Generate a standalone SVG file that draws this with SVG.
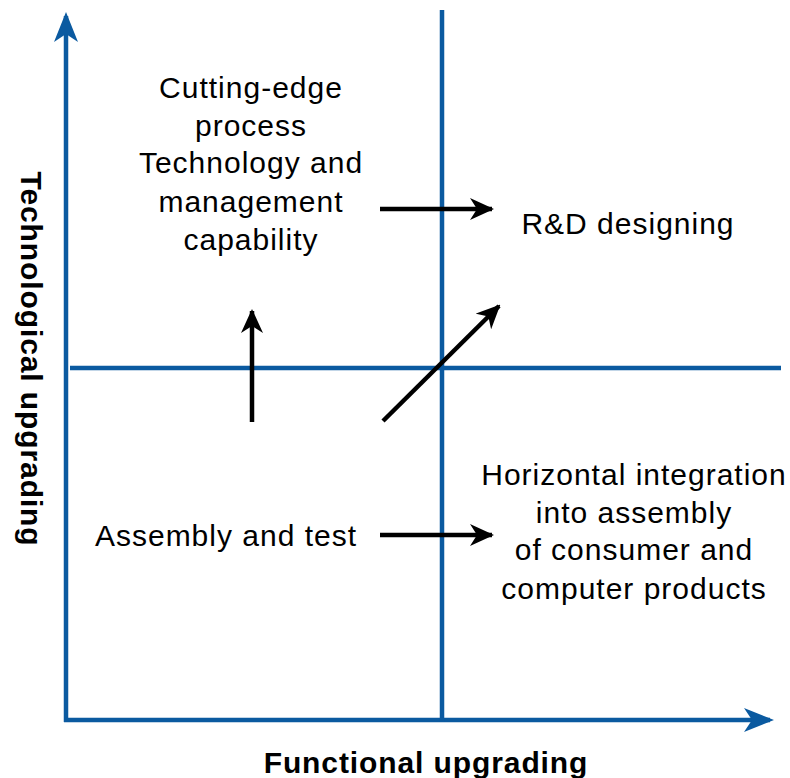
<svg xmlns="http://www.w3.org/2000/svg" width="790" height="778" viewBox="0 0 790 778">
  <style>
    .axis { stroke: #0b5aa0; stroke-width: 4.5; fill: none; }
    .flow { stroke: #000; stroke-width: 4.5; fill: none; }
    .lbl { font-family: "Liberation Sans", Arial, sans-serif; font-size: 30px; letter-spacing: 1px; fill: #000; text-anchor: middle; }
    .title { font-family: "Liberation Sans", Arial, sans-serif; font-size: 30px; letter-spacing: 0.9px; font-weight: bold; fill: #000; text-anchor: middle; }
  </style>
  <defs>
    <marker id="blueHead" markerUnits="userSpaceOnUse" markerWidth="30" markerHeight="24" refX="26" refY="12" orient="auto" viewBox="0 0 30 24">
      <path d="M0,0 L30,12 L0,24 L8,12 Z" fill="#0b5aa0"/>
    </marker>
    <marker id="blackHead" markerUnits="userSpaceOnUse" markerWidth="24" markerHeight="22" refX="22" refY="11" orient="auto" viewBox="0 0 24 22">
      <path d="M0,0 L24,11 L0,22 L7,11 Z" fill="#000"/>
    </marker>
  </defs>

  <!-- quadrant frame -->
  <g id="axes">
    <line class="axis" x1="66" y1="722" x2="66" y2="16" marker-end="url(#blueHead)"/>
    <line class="axis" x1="64" y1="720" x2="770" y2="720" marker-end="url(#blueHead)"/>
    <line class="axis" x1="442" y1="10" x2="442" y2="722"/>
    <line class="axis" x1="70" y1="368" x2="781" y2="368"/>
  </g>

  <g id="connectors">
    <line class="flow" x1="380" y1="209" x2="492" y2="209" marker-end="url(#blackHead)"/>
    <line class="flow" x1="383" y1="421" x2="499" y2="306" marker-end="url(#blackHead)"/>
    <line class="flow" x1="252" y1="422" x2="252" y2="311" marker-end="url(#blackHead)"/>
    <line class="flow" x1="380" y1="535" x2="492" y2="535" marker-end="url(#blackHead)"/>
  </g>

  <g id="node-process">
    <text class="lbl" x="251" y="98">Cutting-edge</text>
    <text class="lbl" x="251" y="136">process</text>
    <text class="lbl" x="251" y="173">Technology and</text>
    <text class="lbl" x="251" y="212">management</text>
    <text class="lbl" x="251" y="250">capability</text>
  </g>

  <g id="node-rnd">
    <text class="lbl" x="628" y="234">R&amp;D designing</text>
  </g>

  <g id="node-assembly">
    <text class="lbl" x="226" y="546">Assembly and test</text>
  </g>

  <g id="node-horizontal">
    <text class="lbl" x="634" y="485">Horizontal integration</text>
    <text class="lbl" x="634" y="523">into assembly</text>
    <text class="lbl" x="634" y="560">of consumer and</text>
    <text class="lbl" x="634" y="599">computer products</text>
  </g>

  <g id="axis-titles">
    <text class="title" x="426" y="773">Functional upgrading</text>
    <text class="title" transform="translate(21,359) rotate(90)" x="0" y="0">Technological upgrading</text>
  </g>
</svg>
